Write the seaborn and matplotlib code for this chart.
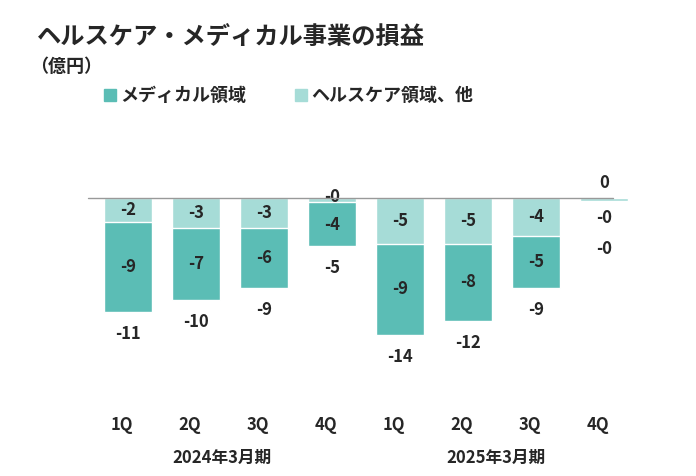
import matplotlib
matplotlib.use("Agg")
import matplotlib.pyplot as plt
from matplotlib.lines import Line2D
import seaborn as sns
import pandas as pd
import numpy as np

sns.set_style("white")
plt.rcParams['font.family'] = ['Noto Sans CJK JP', 'DejaVu Sans']

quarters = ["1Q", "2Q", "3Q", "4Q", "1Q", "2Q", "3Q", "4Q"]
years = ["2024年3月期", "2025年3月期"]
medical = [-9.0, -7.2, -6.0, -4.4, -9.1, -7.7, -5.2, 0.2]
healthcare = [-2.4, -3.0, -3.0, -0.4, -4.6, -4.6, -3.8, -0.3]
medical_lbl = ["-9", "-7", "-6", "-4", "-9", "-8", "-5", "0"]
health_lbl = ["-2", "-3", "-3", "-0", "-5", "-5", "-4", "-0"]
total_lbl = ["-11", "-10", "-9", "-5", "-14", "-12", "-9", "-0"]

dark = "#5BBDB5"
light = "#A6DCD7"

W, H = 696, 476
fig = plt.figure(figsize=(W/100, H/100), dpi=100)
ax = fig.add_axes([94/W, 1-391/H, 544/W, 233/H])

idx = list(range(8))
total = [m + h for m, h in zip(medical, healthcare)]
df = pd.DataFrame({"i": idx, "total": total, "health": healthcare})
sns.barplot(data=df, x="i", y="total", color=dark, width=0.7, saturation=1, ax=ax)
sns.barplot(data=df, x="i", y="health", color=light, width=0.7, saturation=1, ax=ax)
ax.set_xlim(-0.5, 7.5)
ax.set_ylim(-19.3, 4)
ax.axis("off")
fig.add_artist(Line2D([88/W, 613/W], [1-197.5/H, 1-197.5/H], color="#999999", lw=1))

fs = 12
for i in idx:
    h, m, t = healthcare[i], medical[i], total[i]
    if m > 0:
        ax.text(i, m + 0.4, medical_lbl[i], ha="center", va="bottom", fontsize=fs, fontweight="bold")
        ax.text(i, -2.0, health_lbl[i], ha="center", va="center", fontsize=fs, fontweight="bold")
        ax.text(i, -5.1, total_lbl[i], ha="center", va="center", fontsize=fs, fontweight="bold")
        continue
    hy = h/2 if abs(h) > 1.2 else 0.1
    ax.text(i, hy, health_lbl[i], ha="center", va="center", fontsize=fs, fontweight="bold")
    my = h + m/2 if abs(h) > 1.2 else -2.7
    ax.text(i, my, medical_lbl[i], ha="center", va="center", fontsize=fs, fontweight="bold")
    ax.text(i, t - 2.2, total_lbl[i], ha="center", va="center", fontsize=fs, fontweight="bold")

for i, q in enumerate(quarters):
    fig.text((122 + 68*i)/W, 1-425/H, q, ha="center", va="center", fontsize=12, fontweight="bold")
for j, y in enumerate(years):
    fig.text((222 + 274*j)/W, 1-458/H, y, ha="center", va="center", fontsize=12, fontweight="bold")

fig.text(37/W, 1-38/H, "ヘルスケア・メディカル事業の損益", ha="left", va="center", fontsize=17.5, fontweight="bold")
fig.text(30/W, 1-66/H, "（億円）", ha="left", va="center", fontsize=13, fontweight="bold")
fig.patches.append(plt.Rectangle((104/W, 1-101/H), 12/W, 12/H, color=dark, transform=fig.transFigure))
fig.text(120/W, 1-95/H, "メディカル領域", ha="left", va="center", fontsize=13, fontweight="bold")
fig.patches.append(plt.Rectangle((295/W, 1-101/H), 12/W, 12/H, color=light, transform=fig.transFigure))
fig.text(311/W, 1-95/H, "ヘルスケア領域、他", ha="left", va="center", fontsize=13, fontweight="bold")

fig.savefig("out.png", dpi=100)
